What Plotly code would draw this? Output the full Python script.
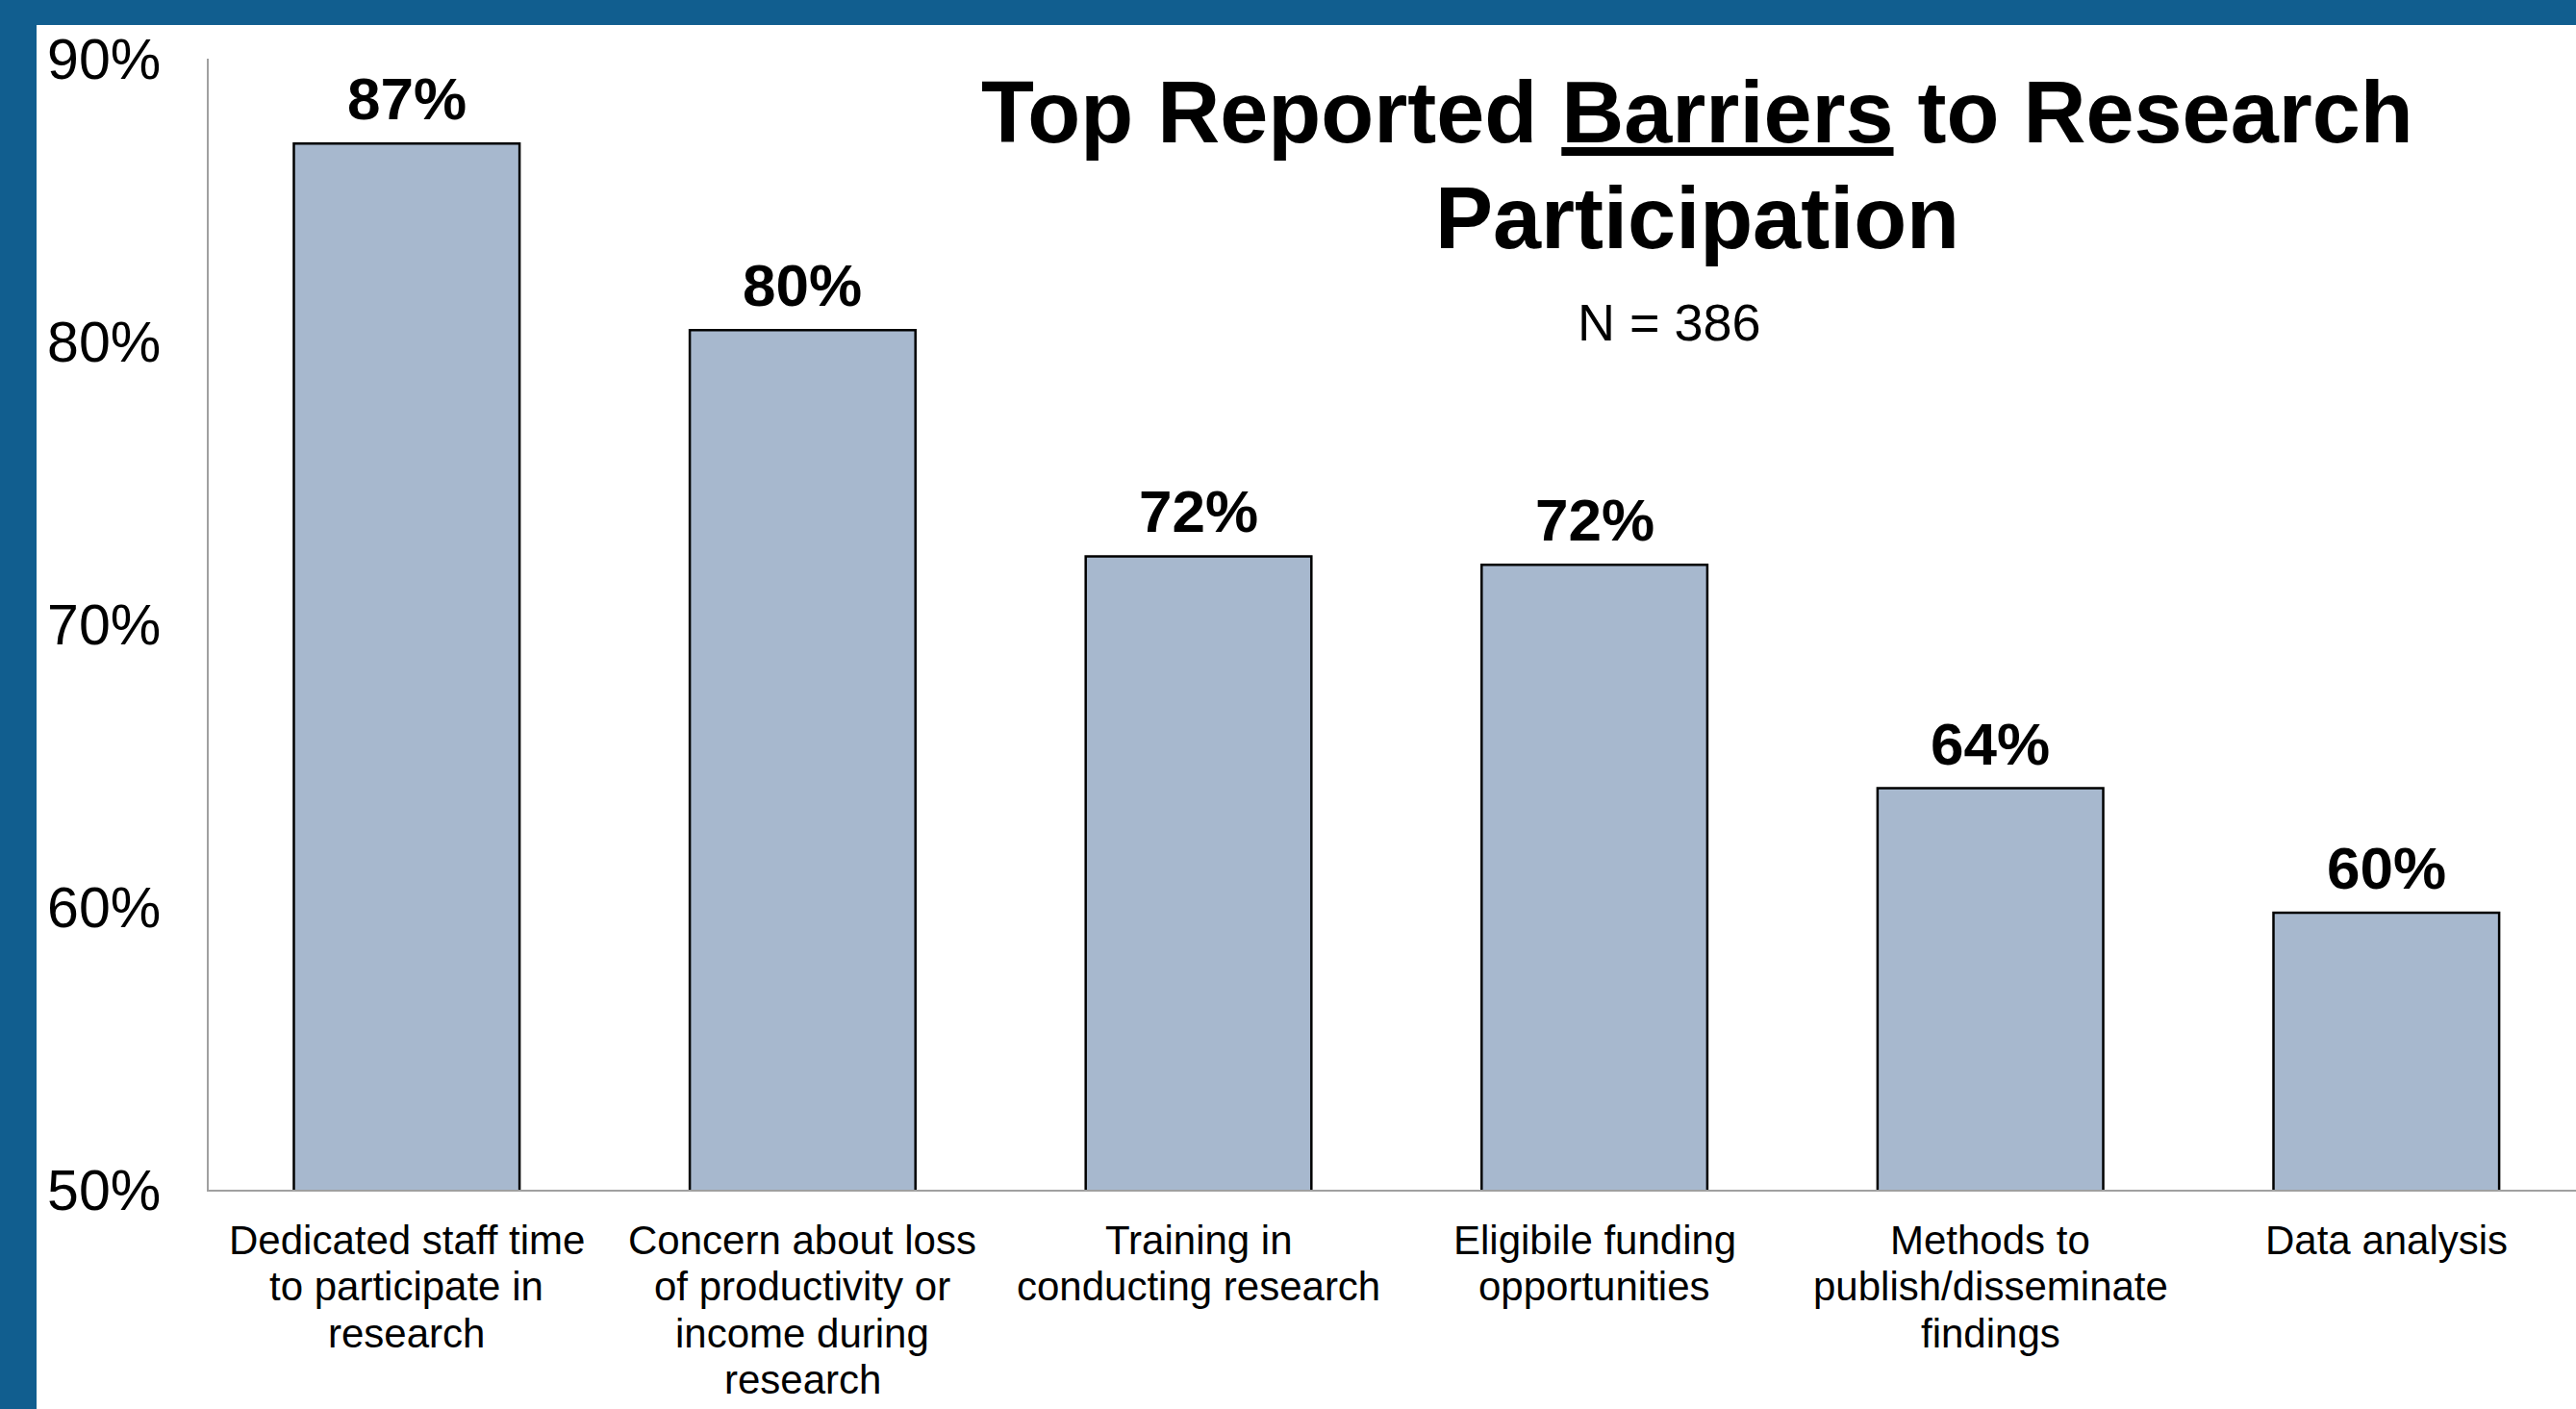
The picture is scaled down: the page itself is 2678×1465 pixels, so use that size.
import plotly.graph_objects as go

categories = [
    "Dedicated staff time<br>to participate in<br>research",
    "Concern about loss<br>of productivity or<br>income during<br>research",
    "Training in<br>conducting research",
    "Eligibile funding<br>opportunities",
    "Methods to<br>publish/disseminate<br>findings",
    "Data analysis",
]
values = [87.0, 80.4, 72.4, 72.1, 64.2, 59.8]
value_labels = ["87%", "80%", "72%", "72%", "64%", "60%"]
y_ticks = [50, 60, 70, 80, 90]
y_tick_labels = ["50%", "60%", "70%", "80%", "90%"]

W, H = 2678, 1465
ML, MR, MT, MB = 217, 0, 61, 228
FONT = "Liberation Sans, Arial, sans-serif"
BLUE = "#115E8F"
PLOT_W = W - ML - MR
PLOT_H = H - MT - MB

x_idx = list(range(len(categories)))

fig = go.Figure()
fig.add_trace(go.Bar(
    x=x_idx,
    y=values,
    base=0,
    width=0.57,
    marker=dict(color="#A7B8CE", line=dict(color="#000000", width=2.5)),
    cliponaxis=False,
    hoverinfo="skip",
))

cat_px = 411.6
x_max = -0.5 + PLOT_W / cat_px

fig.update_layout(
    width=W, height=H,
    margin=dict(l=ML, r=MR, t=MT, b=MB, pad=0),
    paper_bgcolor="white",
    plot_bgcolor="white",
    showlegend=False,
    font=dict(family=FONT, color="#000000"),
    xaxis=dict(
        range=[-0.5, x_max],
        tickmode="array",
        tickvals=x_idx,
        showticklabels=False,
        showline=True, linecolor="#A0A0A0", linewidth=2,
        showgrid=False, zeroline=False, ticks="",
    ),
    yaxis=dict(
        range=[50, 90],
        tickmode="array",
        tickvals=y_ticks,
        ticktext=y_tick_labels,
        tickfont=dict(family=FONT, size=59, color="#000000"),
        showline=True, linecolor="#A0A0A0", linewidth=2,
        showgrid=False, zeroline=False, ticks="",
        ticklabelstandoff=36,
    ),
)

# value labels above bars
for i, (v, lab) in enumerate(zip(values, value_labels)):
    fig.add_annotation(x=i, y=v, xref="x", yref="y", text=f"<b>{lab}</b>",
                       showarrow=False, xanchor="center", yanchor="bottom",
                       yshift=10, font=dict(family=FONT, size=62, color="#000000"))

# category labels (one annotation per line for tighter line spacing)
LINE_PX = 48.5
FIRST_PX = 52
for i, cat in enumerate(categories):
    for k, line in enumerate(cat.split("<br>")):
        fig.add_annotation(x=i, y=0, xref="x", yref="paper", text=line,
                           showarrow=False, xanchor="center", yanchor="middle",
                           yshift=-(FIRST_PX + k * LINE_PX),
                           font=dict(family=FONT, size=42, color="#000000"))

# slide-style blue border (top and left)
fig.add_shape(type="rect", xref="paper", yref="paper",
              x0=(0 - ML) / PLOT_W, x1=(W - ML) / PLOT_W,
              y0=(H - MB - 26) / PLOT_H, y1=(H - MB + 10) / PLOT_H,
              fillcolor=BLUE, line=dict(width=0), layer="above")
fig.add_shape(type="rect", xref="paper", yref="paper",
              x0=(-10 - ML) / PLOT_W, x1=(38 - ML) / PLOT_W,
              y0=(-MB - 10) / PLOT_H, y1=(H - MB + 10) / PLOT_H,
              fillcolor=BLUE, line=dict(width=0), layer="above")

fig.add_annotation(xref="paper", yref="paper", x=0.629, y=0.952,
                   text="<b>Top Reported <u>Barriers</u> to Research</b>",
                   showarrow=False, xanchor="center", yanchor="middle",
                   font=dict(family=FONT, size=90, color="#000000"))
fig.add_annotation(xref="paper", yref="paper", x=0.629, y=0.859,
                   text="<b>Participation</b>",
                   showarrow=False, xanchor="center", yanchor="middle",
                   font=dict(family=FONT, size=90, color="#000000"))
fig.add_annotation(xref="paper", yref="paper", x=0.617, y=0.767,
                   text="N = 386",
                   showarrow=False, xanchor="center", yanchor="middle",
                   font=dict(family=FONT, size=54, color="#000000"))

fig.write_html("out.html",
               config={"displayModeBar": False},
               post_script="document.body.style.margin='0';document.body.style.overflow='hidden';")
